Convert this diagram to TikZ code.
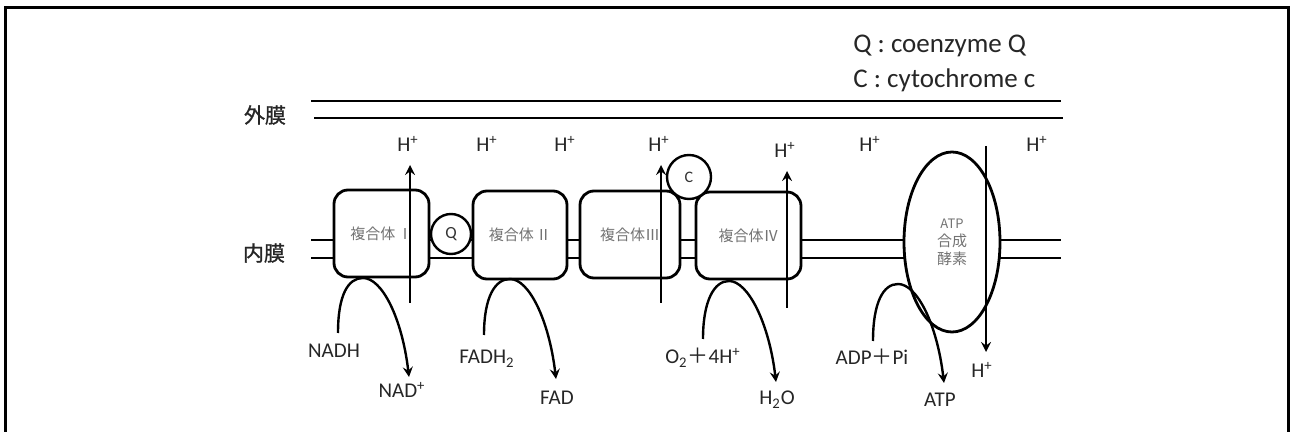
\documentclass[tikz,border=0pt]{standalone}
\usepackage{fontspec}
\setmainfont{Carlito}
\newfontfamily\jpfont{Noto Sans CJK JP}
\newfontfamily\jpbold[FakeBold=1.2]{Noto Sans CJK JP}
\usetikzlibrary{shapes.geometric}
\begin{document}
\begin{tikzpicture}[x=0.5pt, y=-0.5pt, >=stealth,
  cplx/.style={draw, line width=1.4pt, rounded corners=7pt, fill=white, inner sep=0pt,
    font=\jpfont\fontsize{7.5}{9}\selectfont, text=black!55},
  carrier/.style={draw, circle, line width=1.2pt, fill=white, inner sep=0pt, font=\fontsize{8.5}{10}\selectfont, text=black!80},
  memb/.style={line width=0.8pt},
  pump/.style={->, line width=1.2pt},
  chem/.style={font=\fontsize{10.5}{12}\selectfont, anchor=base, text=black!85, inner sep=0pt}]

  \useasboundingbox (0,0) rectangle (1290,432);
  \draw[line width=1.5pt] (5,450) -- (5,8) -- (1288,8) -- (1288,450);

  % legend
  \node[anchor=base west, inner sep=0pt, font=\fontsize{13.5}{16}\selectfont, text=black!85] (legQ) at (853,53) {Q : coenzyme Q};
  \node[anchor=base west, inner sep=0pt, font=\fontsize{13.5}{16}\selectfont, text=black!85] (legC) at (853,88) {C : cytochrome c};

  % membranes
  \node[font=\jpbold\fontsize{10.5}{12}\selectfont, text=black!85] (outer) at (265,115) {外膜};
  \node[font=\jpbold\fontsize{10.5}{12}\selectfont, text=black!85] (inner) at (264,253) {内膜};
  \draw[memb] (311,101) -- (1061,101);
  \draw[memb] (314,118) -- (1063,118);
  \draw[memb] (311,240) -- (1061,240);
  \draw[memb] (311,258) -- (1061,258);

  % complexes
  \node[cplx, minimum width=47.5pt, minimum height=43.5pt] (c1) at (381.5,233.5) {複合体\,Ⅰ};
  \node[cplx, minimum width=47pt, minimum height=44pt] (c2) at (520,235) {複合体\,Ⅱ};
  \node[cplx, minimum width=50pt, minimum height=43.5pt] (c3) at (630,234.5) {複合体Ⅲ};
  \node[cplx, minimum width=52.5pt, minimum height=43.5pt] (c4) at (748.5,235.5) {複合体Ⅳ};
  \node[carrier, minimum size=20pt] (q) at (451,234) {Q};
  \node[carrier, minimum size=22pt, font=\fontsize{8}{9}\selectfont] (c) at (689,177) {C};
  \node[draw, ellipse, line width=1.4pt, fill=white, minimum width=48pt, minimum height=90pt, inner sep=0pt,
    align=center, text=black!55, font=\jpfont\fontsize{7.5}{9}\selectfont] (atps) at (952,242)
    {{\fontsize{6.5}{7}\selectfont ATP}\\合成\\酵素};

  % H+ outside
  \node[chem] (h1) at (408,152) {H\textsuperscript{+}};
  \node[chem] (h2) at (487,152) {H\textsuperscript{+}};
  \node[chem] (h3) at (565,152) {H\textsuperscript{+}};
  \node[chem] (h4) at (659,152) {H\textsuperscript{+}};
  \node[chem] (h5) at (785,158) {H\textsuperscript{+}};
  \node[chem] (h6) at (870,152) {H\textsuperscript{+}};
  \node[chem] (h7) at (1037,152) {H\textsuperscript{+}};
  \node[chem] (h8) at (982,378) {H\textsuperscript{+}};

  % proton pumps
  \coordinate (p1a) at (410,303); \coordinate (p1b) at (410,165);
  \coordinate (p3a) at (661,303); \coordinate (p3b) at (661,165);
  \coordinate (p4a) at (787,308); \coordinate (p4b) at (787,171);
  \coordinate (p5a) at (986,146); \coordinate (p5b) at (986,352);
  \draw[pump] (p1a) -- (p1b);
  \draw[pump] (p3a) -- (p3b);
  \draw[pump] (p4a) -- (p4b);
  \draw[pump] (p5a) -- (p5b);

  % substrates
  \node[chem] (nadh) at (334,358) {NADH};
  \node[chem] (nad) at (402,398) {NAD\textsuperscript{+}};
  \node[chem] (fadh) at (487,364) {FADH\textsubscript{2}};
  \node[chem] (fad) at (557,405) {FAD};
  \node[chem] (oxy) at (703,364) {O\textsubscript{2}{\jpfont ＋}4H\textsuperscript{+}};
  \node[chem] (water) at (777,405) {H\textsubscript{2}O};
  \node[chem] (adp) at (872,365) {ADP{\jpfont ＋}Pi};
  \node[chem] (atp) at (940,407) {ATP};

  \coordinate (s1) at (338,333); \coordinate (e1) at (409,377);
  \coordinate (s2) at (484,335); \coordinate (e2) at (556,379);
  \coordinate (s3) at (703,339); \coordinate (e3) at (776,382);
  \coordinate (s4) at (873,341); \coordinate (e4) at (944,383);
  \draw[pump] (s1) .. controls (338,295) and (348,278) .. (363,278) .. controls (382,278) and (402,318) .. (e1);
  \draw[pump] (s2) .. controls (484,297) and (495,279) .. (510,279) .. controls (529,279) and (549,320) .. (e2);
  \draw[pump] (s3) .. controls (703,301) and (714,281) .. (729,281) .. controls (748,281) and (769,323) .. (e3);
  \draw[pump] (s4) .. controls (873,303) and (883,284) .. (898,284) .. controls (917,284) and (937,324) .. (e4);
\end{tikzpicture}
\end{document}
